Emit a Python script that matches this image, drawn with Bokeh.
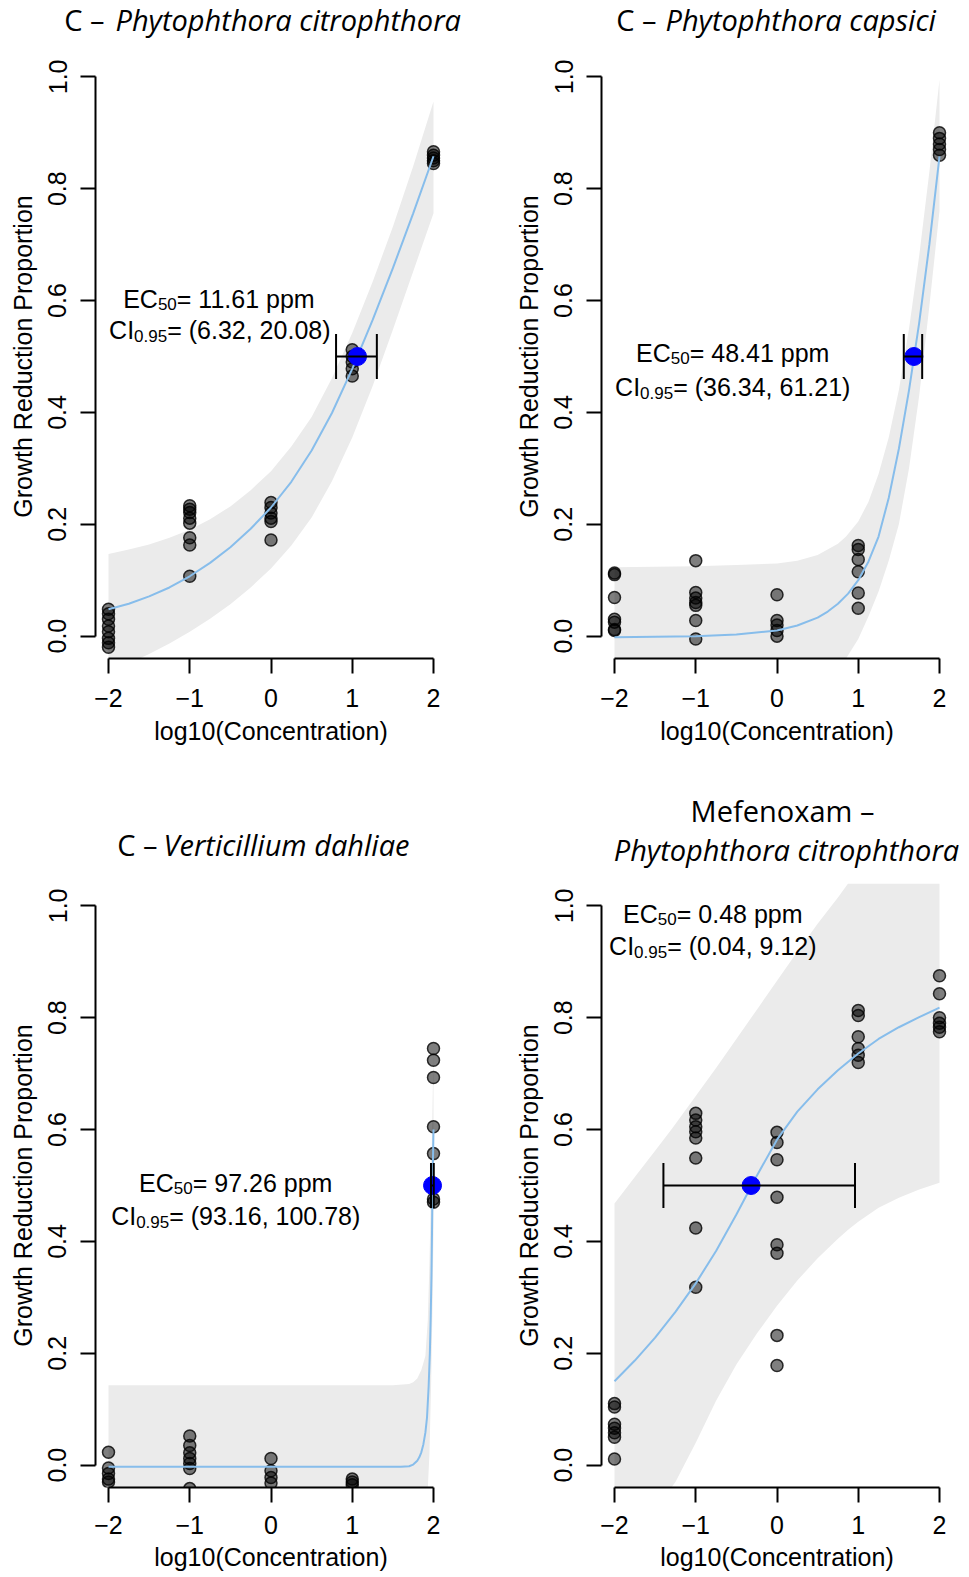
import math
from bokeh.plotting import figure
from bokeh.layouts import column, row
from bokeh.models import Range1d, FixedTicker, Label, PrintfTickFormatter
from bokeh.core.properties import value
from bokeh.embed import file_html
from bokeh.resources import INLINE

# ---------------- data ----------------
log_conc = [-2, -1, 0, 1, 2]
x_tick_labels = ["\u22122", "\u22121", "0", "1", "2"]
y_ticks = [0.0, 0.2, 0.4, 0.6, 0.8, 1.0]
ec_level = 0.5

# C - Phytophthora citrophthora
cit_resp = [
    [0.048, 0.040, 0.030, 0.018, 0.008, -0.004, -0.012, -0.020],
    [0.233, 0.227, 0.221, 0.211, 0.202, 0.176, 0.163, 0.107],
    [0.239, 0.230, 0.220, 0.211, 0.205, 0.172],
    [0.512, 0.500, 0.490, 0.478, 0.465],
    [0.866, 0.860, 0.855, 0.850, 0.845],
]
cit_curve_x = [-2, -1.75, -1.5, -1.25, -1, -0.75, -0.5, -0.25, 0, 0.25, 0.5, 0.75, 1, 1.25, 1.5, 1.75, 2]
cit_curve_y = [0.048, 0.058, 0.071, 0.087, 0.107, 0.131, 0.159, 0.192, 0.230, 0.276, 0.332, 0.399,
               0.478, 0.565, 0.658, 0.756, 0.858]
cit_band_x = [-2, -1.75, -1.5, -1.25, -1, -0.75, -0.5, -0.25, 0, 0.25, 0.5, 0.75, 1, 1.25, 1.5, 1.75, 2]
cit_band_hi = [0.147, 0.155, 0.164, 0.176, 0.190, 0.209, 0.232, 0.261, 0.295, 0.339, 0.392, 0.461,
               0.542, 0.633, 0.732, 0.840, 0.956]
cit_band_lo = [-0.065, -0.049, -0.032, -0.013, 0.008, 0.031, 0.057, 0.087, 0.121, 0.162, 0.212, 0.277,
               0.355, 0.447, 0.548, 0.652, 0.756]
cit_ec50, cit_ci = 11.61, (6.32, 20.08)

# C - Phytophthora capsici
cap_resp = [
    [0.113, 0.110, 0.069, 0.030, 0.025, 0.012, 0.010],
    [0.135, 0.078, 0.068, 0.060, 0.055, 0.028, -0.005],
    [0.074, 0.028, 0.020, 0.010, 0.000],
    [0.162, 0.155, 0.137, 0.115, 0.077, 0.050],
    [0.900, 0.890, 0.880, 0.870, 0.860],
]
cap_curve_x = [-2, -1.5, -1, -0.5, 0, 0.25, 0.5, 0.625, 0.75, 0.875, 1, 1.125, 1.25, 1.375, 1.5,
               1.625, 1.75, 1.875, 2]
cap_curve_y = [-0.002, -0.001, 0.0, 0.003, 0.010, 0.019, 0.033, 0.044, 0.058, 0.076, 0.100, 0.133,
               0.178, 0.247, 0.335, 0.440, 0.560, 0.700, 0.858]
cap_band_x = [-2, -1, -0.5, 0, 0.25, 0.5, 0.75, 0.85, 1, 1.125, 1.25, 1.375, 1.5, 1.625, 1.75, 1.875, 2]
cap_band_hi = [0.123, 0.125, 0.127, 0.130, 0.135, 0.145, 0.165, 0.178, 0.205, 0.240, 0.290, 0.355,
               0.440, 0.550, 0.680, 0.830, 0.995]
cap_band_lo = [-0.04, -0.04, -0.04, -0.04, -0.04, -0.04, -0.04, -0.04, -0.005, 0.035, 0.080, 0.135,
               0.200, 0.300, 0.430, 0.590, 0.760]
cap_ec50, cap_ci = 48.41, (36.34, 61.21)

# C - Verticillium dahliae
ver_resp = [
    [0.023, -0.005, -0.015, -0.025, -0.030],
    [0.052, 0.035, 0.022, 0.012, 0.003, -0.006, -0.042],
    [0.012, -0.010, -0.022, -0.032],
    [-0.025, -0.030, -0.035],
    [0.745, 0.724, 0.693, 0.605, 0.557, 0.476, 0.470],
]
ver_curve_x = [-2, 0, 1, 1.5, 1.6, 1.7, 1.75, 1.8, 1.825, 1.85, 1.875, 1.9, 1.92, 1.94, 1.955,
               1.965, 1.975, 1.982, 1.988, 1.994, 2]
ver_curve_y = [-0.003, -0.003, -0.003, -0.003, -0.003, -0.002, 0.001, 0.008, 0.014, 0.023, 0.037,
               0.058, 0.085, 0.140, 0.200, 0.260, 0.340, 0.420, 0.500, 0.550, 0.600]
ver_band_x = [-2, -1, 0, 1, 1.5, 1.7, 1.75, 1.8, 1.85, 1.9, 1.93, 1.95, 1.97, 1.99, 2]
ver_band_hi = [0.143, 0.143, 0.143, 0.143, 0.143, 0.145, 0.148, 0.155, 0.170, 0.195, 0.260, 0.360,
               0.500, 0.660, 0.750]
ver_band_lo = [-0.04, -0.04, -0.04, -0.04, -0.04, -0.04, -0.04, -0.04, -0.04, -0.04, -0.04, 0.020,
               0.140, 0.300, 0.420]
ver_ec50, ver_ci = 97.26, (93.16, 100.78)

# Mefenoxam - Phytophthora citrophthora
mef_resp = [
    [0.110, 0.104, 0.073, 0.066, 0.058, 0.050, 0.011],
    [0.629, 0.617, 0.605, 0.596, 0.585, 0.549, 0.424, 0.318],
    [0.595, 0.577, 0.546, 0.479, 0.394, 0.379, 0.232, 0.178],
    [0.813, 0.804, 0.766, 0.745, 0.733, 0.720],
    [0.875, 0.843, 0.800, 0.790, 0.783, 0.775],
]
mef_curve_x = [-2, -1.75, -1.5, -1.25, -1, -0.75, -0.5, -0.25, 0, 0.25, 0.5, 0.75, 1, 1.25, 1.5, 1.75, 2]
mef_curve_y = [0.150, 0.187, 0.228, 0.274, 0.325, 0.383, 0.448, 0.517, 0.582, 0.632, 0.672, 0.706,
               0.736, 0.762, 0.783, 0.801, 0.818]
mef_band_x = [-2, -1.75, -1.5, -1.3, -1.25, -1.15, -1, -0.75, -0.5, -0.25, 0, 0.25, 0.5, 0.75, 0.875,
              1, 1.25, 1.5, 1.75, 2]
mef_band_hi = [0.468, 0.515, 0.562, 0.600, 0.610, 0.630, 0.660, 0.710, 0.762, 0.814, 0.866, 0.918,
               0.968, 1.015, 1.04, 1.04, 1.04, 1.04, 1.04, 1.04]
mef_band_lo = [-0.04, -0.04, -0.04, -0.04, -0.03, -0.002, 0.040, 0.115, 0.180, 0.235, 0.285, 0.330,
               0.370, 0.405, 0.421, 0.435, 0.460, 0.478, 0.493, 0.505]
mef_ec50, mef_ci = 0.48, (0.04, 9.12)

# ---------------- styling helpers ----------------
AX_FONT = "Liberation Sans"
TITLE_FONT = "Open Sans"
TITLE_PX = 29
BAND = "#EBEBEB"
CURVE = "#87BDEB"
TXT_SHIFT = 11
BASE_FIX = 0.44  # baseline correction of the svg text, in em

ARIAL_W = {c: 556 for c in "0123456789"}
ARIAL_W.update({".": 278, ",": 278, " ": 278, "(": 333, ")": 333, "=": 584,
                "E": 667, "C": 722, "I": 278, "p": 556, "m": 833})


def text_w(s, size):
    return sum(ARIAL_W.get(ch, 556) for ch in s) / 1000.0 * size


def sub_text(p, cx, cy, parts):
    total = sum(text_w(t, sz) for t, sz, _ in parts)
    off = -total / 2.0
    for t, sz, dy in parts:
        p.add_layout(Label(x=cx, y=cy, x_offset=off, y_offset=dy + TXT_SHIFT, text=t,
                           text_align="left", text_baseline="alphabetic",
                           text_font=AX_FONT, text_font_size=f"{sz}px",
                           text_color="black"))
        off += text_w(t, sz)


def make_panel(resp, cx, cy, bx, blo, bhi, ec50, ci, txt, left, right, bottom,
               tick_standoff, lab_standoff):
    p = figure(frame_width=351, frame_height=604,
               x_range=Range1d(-2.16, 2.16), y_range=Range1d(-0.04, 1.04),
               output_backend="svg", toolbar_location=None,
               min_border_left=left, min_border_right=right,
               min_border_top=0, min_border_bottom=bottom)
    p.outline_line_color = None
    p.grid.visible = False
    p.background_fill_color = "white"
    p.border_fill_color = "white"

    p.xaxis.ticker = FixedTicker(ticks=log_conc)
    p.xaxis.major_label_overrides = {v: lab for v, lab in zip(log_conc, x_tick_labels)}
    p.yaxis.ticker = FixedTicker(ticks=y_ticks)
    p.yaxis.formatter = PrintfTickFormatter(format="%.1f")
    p.xaxis.bounds = (log_conc[0], log_conc[-1])
    p.yaxis.bounds = (y_ticks[0], y_ticks[-1])
    for ax in p.axis:
        ax.axis_line_width = 2
        ax.axis_line_color = "black"
        ax.major_tick_line_width = 2
        ax.major_tick_line_color = "black"
        ax.major_tick_out = 15
        ax.major_tick_in = 0
        ax.minor_tick_line_color = None
        ax.major_label_text_font = AX_FONT
        ax.major_label_text_font_size = "25px"
        ax.major_label_text_color = "black"
        ax.axis_label_text_font = AX_FONT
        ax.axis_label_text_font_size = "25px"
        ax.axis_label_text_font_style = "normal"
        ax.axis_label_text_color = "black"
    p.xaxis.axis_label = "log10(Concentration)"
    p.yaxis.axis_label = "Growth Reduction Proportion"
    p.yaxis.major_label_orientation = "vertical"
    p.xaxis.major_label_standoff = tick_standoff
    p.yaxis.major_label_standoff = 14
    p.xaxis.axis_label_standoff = lab_standoff
    p.yaxis.axis_label_standoff = 9

    # confidence band
    p.varea(x=bx, y1=blo, y2=bhi, fill_color=BAND, fill_alpha=1.0)
    # observations
    xs, ys = [], []
    for lc, vals in zip(log_conc, resp):
        xs += [lc] * len(vals)
        ys += vals
    p.scatter(x=xs, y=ys, size=12, fill_color="black", fill_alpha=0.5,
              line_color="black", line_alpha=0.8, line_width=1.5)
    # fitted curve
    p.line(x=cx, y=cy, line_color=CURVE, line_width=2)
    # EC50 point and its confidence interval
    lx = math.log10(ec50)
    lo, hi = math.log10(ci[0]), math.log10(ci[1])
    p.scatter(x=[lx], y=[ec_level], size=18, fill_color="#0000FF", line_color="#0000FF")
    p.segment(x0=[lo], y0=[ec_level], x1=[hi], y1=[ec_level], line_color="black", line_width=2)
    p.scatter(x=[lo, hi], y=[ec_level, ec_level], marker="dash", angle=math.pi / 2, size=45,
              line_color="black", line_width=2)
    # annotation text
    tx, ty1, ty2 = txt
    sub_text(p, tx, ty1, [("EC", 25, 0), ("50", 17, -5), (f"= {ec50:.2f} ppm", 25, 0)])
    sub_text(p, tx, ty2, [("CI", 25, 0), ("0.95", 17, -6), (f"= ({ci[0]:.2f}, {ci[1]:.2f})", 25, 0)])
    return p


def title_fig(height, items):
    t = figure(width=969, height=height, x_range=Range1d(0, 969), y_range=Range1d(height, 0),
               output_backend="svg", toolbar_location=None, min_border=0,
               x_axis_location=None, y_axis_location=None)
    t.outline_line_color = None
    t.grid.visible = False
    fix = BASE_FIX * TITLE_PX
    for x, y, txt, align, style in items:
        t.text(x=[x], y=[y - fix], text=[txt], text_align=align, text_baseline="alphabetic",
               text_font=value(TITLE_FONT), text_font_size=value(f"{TITLE_PX}px"),
               text_font_style=style, text_color="black")
    return t


title_top = title_fig(54, [
    (104, 32, "C \u2013", "right", "normal"),
    (115, 32, "Phytophthora citrophthora", "left", "italic"),
    (656, 32, "C \u2013", "right", "normal"),
    (665, 32, "Phytophthora capsici", "left", "italic"),
])
title_bot = title_fig(93, [
    (157, 67, "C \u2013", "right", "normal"),
    (163, 67, "Verticillium dahliae", "left", "italic"),
    (782, 33, "Mefenoxam \u2013", "center", "normal"),
    (786, 72, "Phytophthora citrophthora", "center", "italic"),
])

p1 = make_panel(cit_resp, cit_curve_x, cit_curve_y, cit_band_x, cit_band_lo, cit_band_hi,
                cit_ec50, cit_ci, (-0.63, 0.583, 0.527), 95, 39, 132, 15, 7)
p2 = make_panel(cap_resp, cap_curve_x, cap_curve_y, cap_band_x, cap_band_lo, cap_band_hi,
                cap_ec50, cap_ci, (-0.545, 0.486, 0.425), 116, 17, 132, 15, 7)
p3 = make_panel(ver_resp, ver_curve_x, ver_curve_y, ver_band_x, ver_band_lo, ver_band_hi,
                ver_ec50, ver_ci, (-0.434, 0.484, 0.425), 95, 39, 90, 13, 6)
p4 = make_panel(mef_resp, mef_curve_x, mef_curve_y, mef_band_x, mef_band_lo, mef_band_hi,
                mef_ec50, mef_ci, (-0.79, 0.965, 0.908), 116, 17, 90, 13, 6)

layout = column(title_top, row(p1, p2), title_bot, row(p3, p4), spacing=0)
open("out.html", "w").write(file_html(layout, INLINE))
